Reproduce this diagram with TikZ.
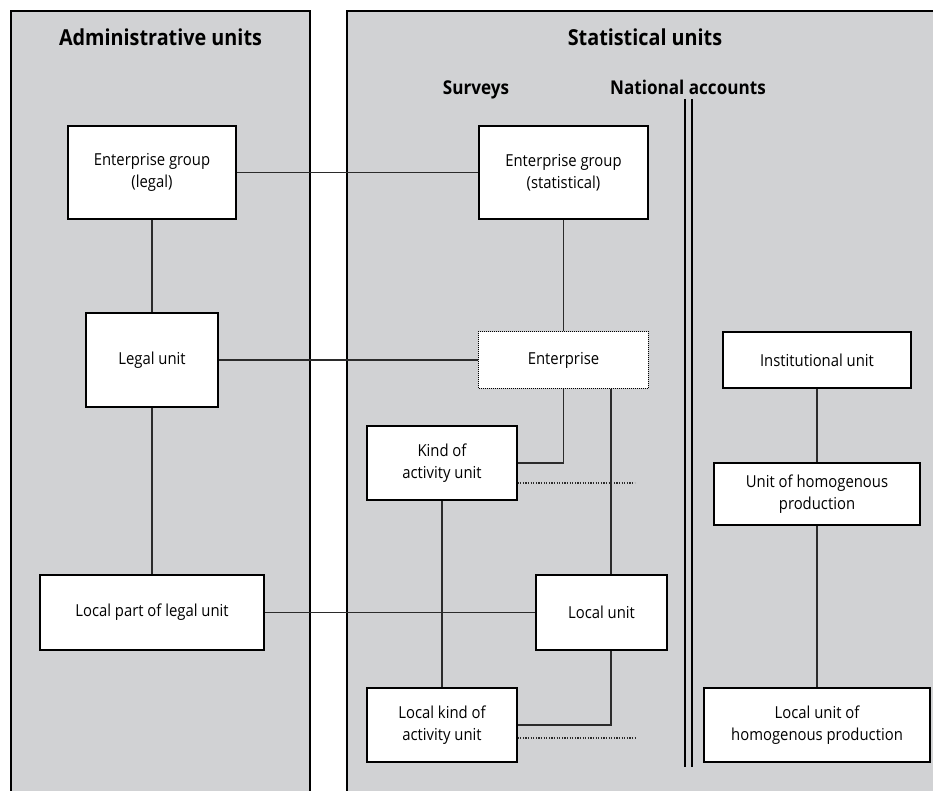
\documentclass[tikz,border=0pt]{standalone}
\usepackage{fontspec}
\setmainfont{Open Sans}[FakeStretch=0.9]
\definecolor{panelgray}{HTML}{D1D2D4}
\definecolor{linegray}{HTML}{2B2B2B}
\begin{document}
\begin{tikzpicture}[x=1pt,y=-1pt,
  ubox/.style={draw=black, fill=white, line width=1.1pt, align=center, inner sep=0pt, font=\fontsize{16.5}{22}\selectfont},
  conn/.style={line width=1.1pt, draw=linegray},
  dotline/.style={line width=1.2pt, draw=linegray, dash pattern=on 1.3pt off 1.3pt},
  panelline/.style={line width=2.2pt, draw=black},
  head/.style={font=\fontsize{22}{26}\selectfont\bfseries, inner sep=0pt, anchor=base},
  subhead/.style={font=\fontsize{19}{23}\selectfont\bfseries, inner sep=0pt, anchor=base}]
\useasboundingbox (0,0) rectangle (933,791);
% panels
\fill[panelgray] (11,11) rectangle (310,800);
\draw[panelline] (11,800) -- (11,11) -- (310,11) -- (310,800);
\fill[panelgray] (347,11) rectangle (940,800);
\draw[panelline] (347,800) -- (347,11) -- (940,11);
% headings
\node[head] (hadm) at (160.5,46) {Administrative units};
\node[head] (hstat) at (645,46) {Statistical units};
\node[subhead] (hsurv) at (476,95) {Surveys};
\node[subhead] (hna) at (688,95) {National accounts};
% double separator
\coordinate (dtop) at (688.5,99);
\coordinate (dbot) at (688.5,767);
\draw[line width=1.5pt] ([xshift=-3.5pt]dtop) -- ([xshift=-3.5pt]dbot);
\draw[line width=1.5pt] ([xshift=3.5pt]dtop) -- ([xshift=3.5pt]dbot);
% boxes
\node[ubox, minimum width=168pt, minimum height=93pt] (egl) at (152,172.5) {Enterprise group\\(legal)};
\node[ubox, minimum width=169pt, minimum height=93pt] (egs) at (563.5,172.5) {Enterprise group\\(statistical)};
\node[ubox, minimum width=132pt, minimum height=94pt] (leg) at (152,360) {Legal unit};
\node[ubox, minimum width=169pt, minimum height=56pt, draw=none] (ent) at (563.5,360) {Enterprise};
\draw[line width=1pt, dash pattern=on 1pt off 1pt] (ent.north west) rectangle (ent.south east);
\node[ubox, minimum width=188pt, minimum height=56pt] (inst) at (817,360) {Institutional unit};
\node[ubox, minimum width=150pt, minimum height=74pt] (kau) at (442,463) {Kind of\\activity unit};
\node[ubox, minimum width=206pt, minimum height=62pt] (uhp) at (817,494) {Unit of homogenous\\production};
\node[ubox, minimum width=224pt, minimum height=75pt] (lp) at (152,612.5) {Local part of legal unit};
\node[ubox, minimum width=131pt, minimum height=75pt] (lou) at (601.5,612.5) {Local unit};
\node[ubox, minimum width=150pt, minimum height=74pt] (lkau) at (442,725) {Local kind of\\activity unit};
\node[ubox, minimum width=226pt, minimum height=74pt] (luhp) at (817,725) {Local unit of\\homogenous production};
% connectors
\coordinate (xr) at (611,0);
\draw[conn] (egl) -- (egs);
\draw[conn] (egl) -- (leg);
\draw[conn] (egs) -- (ent);
\draw[conn] (leg) -- (ent);
\draw[conn] (leg) -- (lp);
\draw[conn] (ent.south) |- (kau.east);
\draw[conn] (ent.south -| xr) -- (lou.north -| xr);
\draw[conn] (kau) -- (lkau);
\draw[conn] (lp) -- (lou);
\draw[conn] (lou.south -| xr) |- (lkau.east);
\draw[conn] (inst) -- (uhp);
\draw[conn] (uhp) -- (luhp);
\draw[dotline] ([yshift=-20pt]kau.east) -- ++(117,0);
\draw[dotline] ([yshift=-13pt]lkau.east) -- ++(118,0);
\end{tikzpicture}
\end{document}
